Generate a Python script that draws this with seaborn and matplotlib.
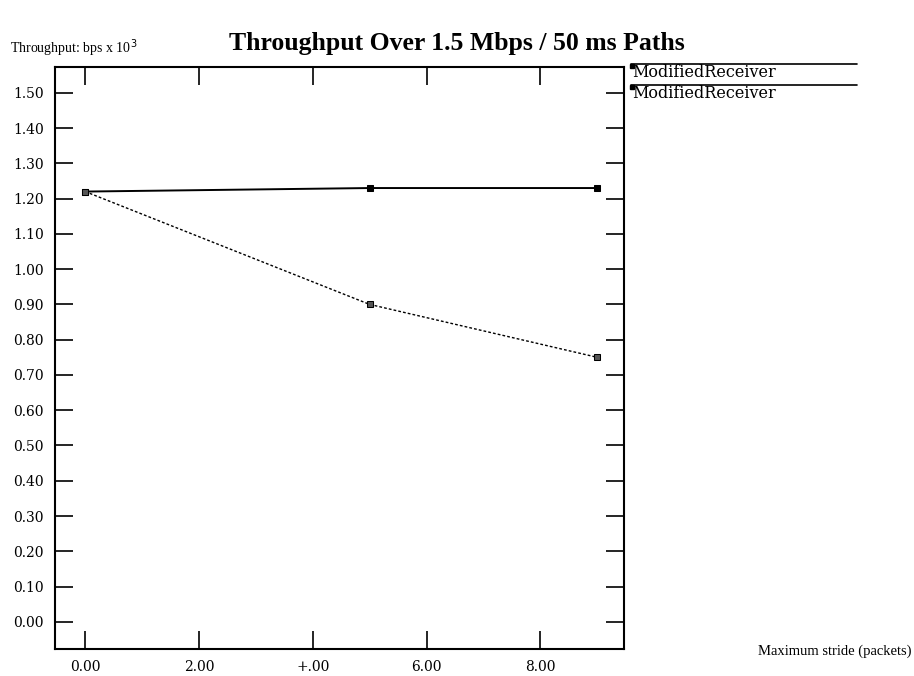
import matplotlib
matplotlib.use("Agg")
import matplotlib.pyplot as plt
from matplotlib.lines import Line2D
import seaborn as sns
import pandas as pd

# Data
stride = [0, 5, 9]
series_names = ["ModifiedReceiver", "ModifiedReceiver "]
throughput_solid = [1.22, 1.23, 1.23]
throughput_dotted = [1.22, 0.90, 0.75]
x_ticks = [0, 2, 4, 6, 8]
x_tick_labels = ["0.00", "2.00", "+.00", "6.00", "8.00"]
y_ticks = [0.0, 0.1, 0.2, 0.3, 0.4, 0.5, 0.6, 0.7, 0.8, 0.9, 1.0, 1.1, 1.2, 1.3, 1.4, 1.5]
y_tick_labels = ["0.00", "0.10", "0.20", "0.30", "0.40", "0.50", "0.60", "0.70",
                 "0.80", "0.90", "1.00", "1.10", "1.20", "1.30", "1.40", "1.50"]

sns.set_style("white")
plt.rcParams["font.family"] = ["Liberation Serif", "DejaVu Serif"]
plt.rcParams["text.color"] = "black"

df = pd.DataFrame({
    "stride": stride * 2,
    "throughput": throughput_solid + throughput_dotted,
    "series": [series_names[0]] * 3 + [series_names[1]] * 3,
})

fig = plt.figure(figsize=(9.14, 6.76), dpi=100)
ax = fig.add_axes([0.0602, 0.040, 0.6225, 0.8613])

sns.lineplot(data=df[df.series == series_names[0]], x="stride", y="throughput",
             ax=ax, color="black", linewidth=1.4, marker="s", markersize=4,
             markeredgecolor="black", legend=False)
sns.lineplot(data=df[df.series == series_names[1]], x="stride", y="throughput",
             ax=ax, color="black", linewidth=1.0, linestyle=(0, (2, 1.5)),
             marker="s", markersize=5, markeredgecolor="black",
             markerfacecolor="#555555", legend=False)

ax.set_xlim(-0.53, 9.47)
ax.set_ylim(-0.077, 1.574)
ax.set_xticks(x_ticks)
ax.set_xticklabels(x_tick_labels, family="DejaVu Serif")
ax.set_yticks(y_ticks)
ax.set_yticklabels(y_tick_labels, family="DejaVu Serif")
ax.set_xlabel("")
ax.set_ylabel("")
ax.tick_params(direction="in", length=13, width=1.2, top=True, right=True,
               left=True, bottom=True, labelsize=10, colors="black", pad=8)
for s in ax.spines.values():
    s.set_visible(True)
    s.set_color("black")
    s.set_linewidth(1.5)

fig.text(0.5, 0.936, "Throughput Over 1.5 Mbps / 50 ms Paths", ha="center",
         va="center", fontsize=18.5, fontweight="bold", color="black")
fig.text(0.011, 0.928, "Throughput: bps x 10$^3$", ha="left", va="center",
         fontsize=10, color="black")
fig.text(0.997, 0.036, "Maximum stride (packets)", ha="right", va="center",
         fontsize=10.5, color="black")

# Legend (drawn in figure coordinates)
leg_y = [0.905, 0.874]
for yy, name in zip(leg_y, series_names):
    fig.add_artist(Line2D([0.690, 0.938], [yy, yy], color="black",
                          linewidth=1.2, transform=fig.transFigure))
    fig.add_artist(Line2D([0.691], [yy - 0.003], marker="s", markersize=3.5,
                          color="black", transform=fig.transFigure))
    fig.text(0.692, yy - 0.012, name.strip(), ha="left", va="center",
             fontsize=11.5, family="DejaVu Serif", color="black")

fig.savefig("out.png", dpi=100)
